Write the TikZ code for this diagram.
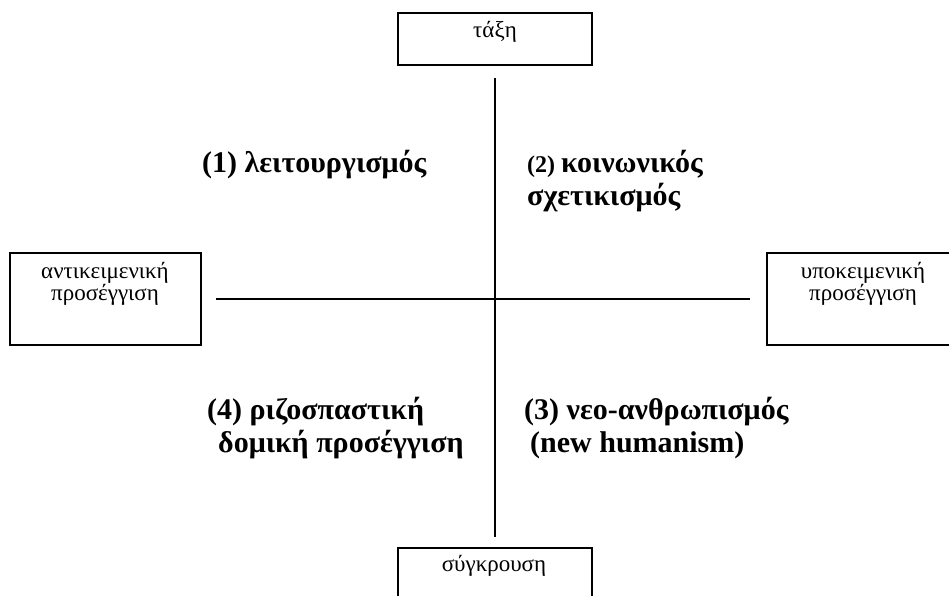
\documentclass[tikz,border=0pt]{standalone}
\usepackage{fontspec}
\setmainfont{Liberation Serif}
\begin{document}
\begin{tikzpicture}[x=1pt,y=-1pt,
  frame/.style={draw=black,line width=2pt},
  axis/.style={draw=black,line width=1.6pt},
  boxtxt/.style={font=\fontsize{23}{26}\selectfont,anchor=base,inner sep=0pt},
  big/.style={font=\fontsize{30}{34}\selectfont\bfseries,anchor=base west,inner sep=0pt},
  small/.style={font=\fontsize{24}{30}\selectfont\bfseries,anchor=base west,inner sep=0pt}]
\useasboundingbox (0,0) rectangle (949,596);
% boxes
\draw[frame] (398,13) rectangle (592,65);
\draw[frame] (10,253) rectangle (201,345);
\draw[frame] (767,253) rectangle (965,345);
\draw[frame] (398,610) -- (398,548) -- (592,548) -- (592,610);
\node[boxtxt] (top) at (495,38) {τάξη};
\node[boxtxt] (left1) at (105,278) {αντικειμενική};
\node[boxtxt] (left2) at (105,300) {προσέγγιση};
\node[boxtxt] (right1) at (863,278) {υποκειμενική};
\node[boxtxt] (right2) at (863,300) {προσέγγιση};
\node[boxtxt] (bottom) at (494,571) {σύγκρουση};
% axes
\coordinate (vt) at (495,78);
\coordinate (vb) at (495,537);
\coordinate (hl) at (216,299);
\coordinate (hr) at (750,299);
\draw[axis] (vt) -- (vb);
\draw[axis] (hl) -- (hr);
% quadrant labels
\node[small] (q2a) at (527,172) {(2) \fontsize{30}{34}\selectfont κοινωνικός};
\node[big] (q1) at (202,172) {(1) λειτουργισμός};
\node[big] (q2b) at (527,205) {σχετικισμός};
\node[big] (q4a) at (207,419) {(4) ριζοσπαστική};
\node[big] (q4b) at (218,452) {δομική προσέγγιση};
\node[big] (q3a) at (524,419) {(3) νεο-ανθρωπισμός};
\node[big] (q3b) at (530,452) {(new humanism)};
\end{tikzpicture}
\end{document}
